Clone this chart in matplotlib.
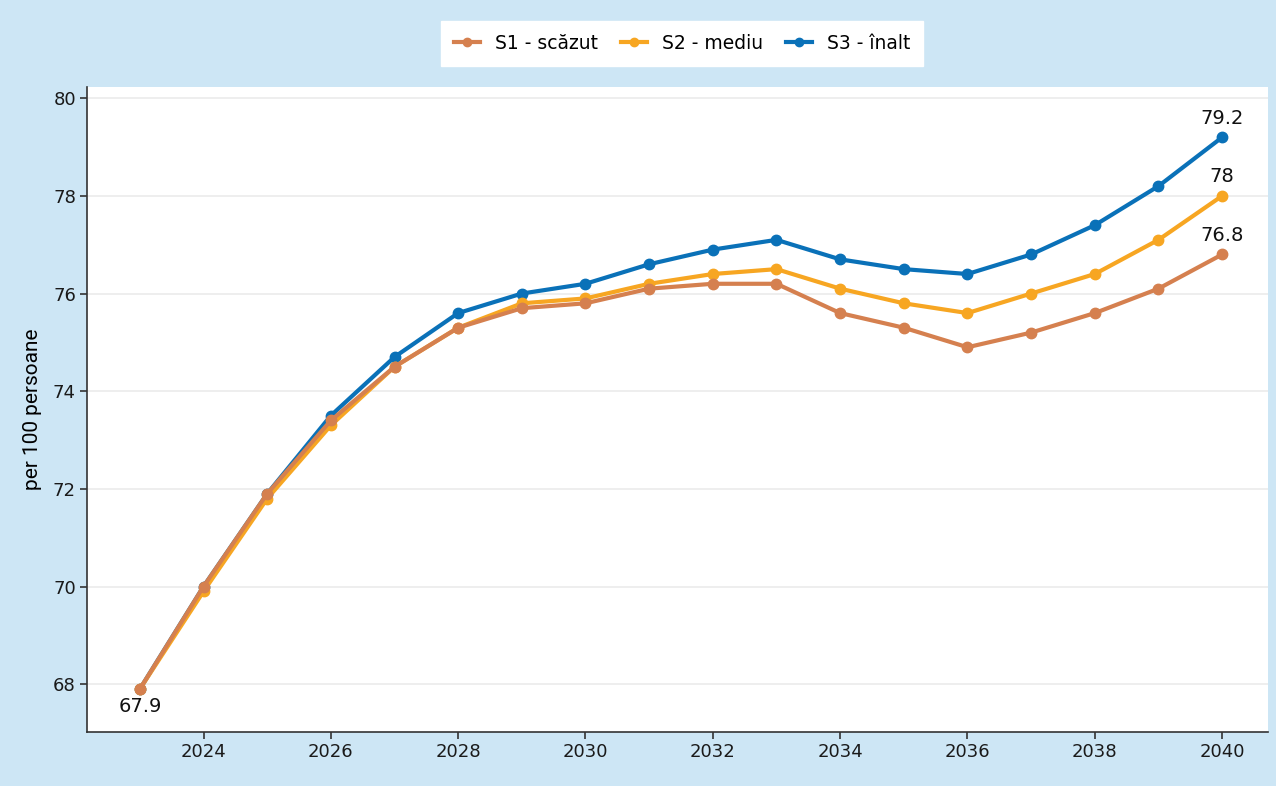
import matplotlib.pyplot as plt

years = list(range(2023, 2041))
s1 = [67.9, 70.0, 71.9, 73.4, 74.5, 75.3, 75.7, 75.8, 76.1, 76.2, 76.2, 75.6, 75.3, 74.9, 75.2, 75.6, 76.1, 76.8]
s2 = [67.9, 69.9, 71.8, 73.3, 74.5, 75.3, 75.8, 75.9, 76.2, 76.4, 76.5, 76.1, 75.8, 75.6, 76.0, 76.4, 77.1, 78.0]
s3 = [67.9, 70.0, 71.9, 73.5, 74.7, 75.6, 76.0, 76.2, 76.6, 76.9, 77.1, 76.7, 76.5, 76.4, 76.8, 77.4, 78.2, 79.2]
labels = ["S1 - scăzut", "S2 - mediu", "S3 - înalt"]
colors = ["#d5804f", "#f7a622", "#0a71b8"]

plt.rcParams['font.family'] = ['DejaVu Sans']

fig = plt.figure(figsize=(12.76, 7.86), dpi=100)
fig.patch.set_facecolor('#cde6f5')
ax = fig.add_axes([0.0682, 0.0687, 0.9255, 0.8206])
ax.set_facecolor('white')

handles = []
for ys, lab, c, z in zip([s1, s2, s3], labels, colors, [5, 4, 3]):
    h, = ax.plot(years, ys, color=c, lw=3, marker='o', ms=7.5, label=lab, zorder=z)
    handles.append(h)

ax.set_xlim(2022.17, 2040.72)
ax.set_ylim(67.02, 80.23)
ax.set_xticks(range(2024, 2041, 2))
ax.set_yticks(range(68, 81, 2))
ax.grid(axis='y', color='#ebebeb', lw=1.2)
ax.set_axisbelow(True)
for s in ['top', 'right']:
    ax.spines[s].set_visible(False)
for s in ['left', 'bottom']:
    ax.spines[s].set_color('#333333')
    ax.spines[s].set_linewidth(1.2)
ax.tick_params(axis='both', colors='#333333', labelcolor='#1a1a1a', labelsize=13,
               length=5, width=1.2, direction='out', pad=3)
ax.set_ylabel("per 100 persoane", fontsize=15, family=['Roboto', 'DejaVu Sans'],
              labelpad=8)

ax.annotate(f"{s1[0]}", (years[0], s1[0]), xytext=(0, -6), textcoords='offset points',
            ha='center', va='top', fontsize=14, color='#111111')
for ys in [s3, s2, s1]:
    v = ys[-1]
    ax.annotate(f"{v:g}", (years[-1], v), xytext=(0, 7), textcoords='offset points',
                ha='center', va='bottom', fontsize=14, color='#111111')

leg = fig.legend(handles=handles, loc='center', bbox_to_anchor=(0.5345, 0.9447), ncol=3,
                 frameon=True, fontsize=13.5, handlelength=1.4, columnspacing=1.2,
                 handletextpad=0.8, borderpad=0.7, fancybox=False, framealpha=1)
leg.get_frame().set_facecolor('white')
leg.get_frame().set_edgecolor('white')
for h in leg.legend_handles:
    h.set_markersize(6)

fig.savefig('out.png', dpi=100, facecolor=fig.get_facecolor())
